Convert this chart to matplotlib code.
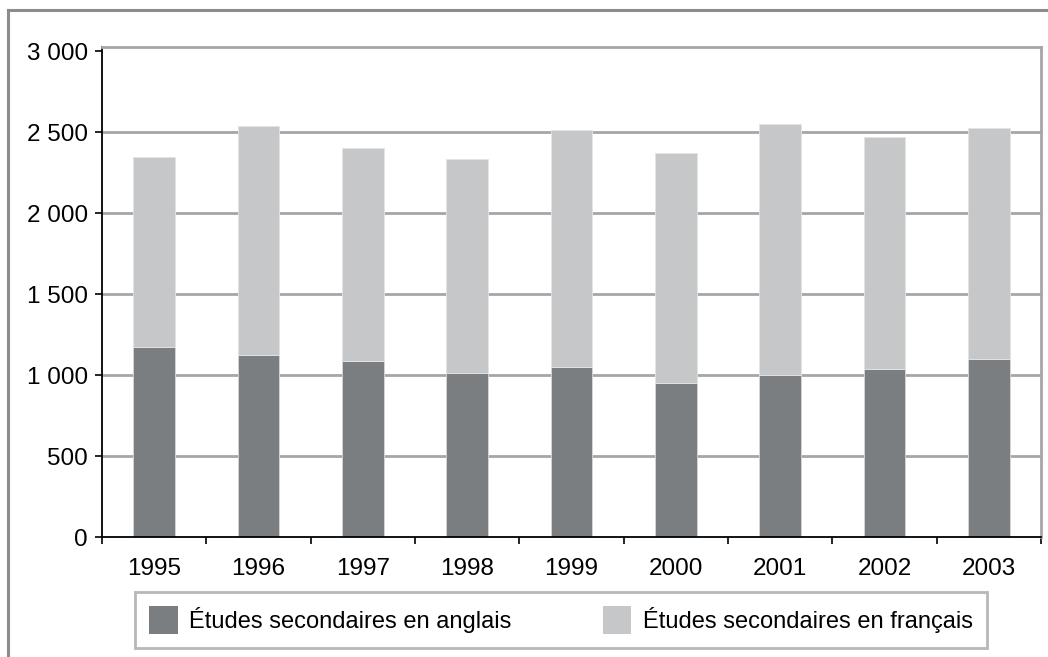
import matplotlib
matplotlib.use("Agg")
import matplotlib.pyplot as plt
from matplotlib.lines import Line2D
from matplotlib.patches import Patch

plt.rcParams['font.family'] = ['Liberation Sans', 'DejaVu Sans']

years = ['1995', '1996', '1997', '1998', '1999', '2000', '2001', '2002', '2003']
anglais = [1176, 1127, 1090, 1012, 1049, 950, 999, 1036, 1100]
francais = [1173, 1411, 1310, 1324, 1465, 1423, 1552, 1438, 1426]
yticks = [0, 500, 1000, 1500, 2000, 2500, 3000]
ylabels = ['0', '500', '1 000', '1 500', '2 000', '2 500', '3 000']

dark = '#7b7e80'
light = '#c6c7c9'
grid = '#a6a6a8'

W, H = 1048, 657
fig = plt.figure(figsize=(W / 100, H / 100), dpi=100)
ax = fig.add_axes([102 / W, (H - 537) / H, (1041 - 102) / W, (537 - 47) / H])

x = list(range(len(years)))
ax.bar(x, anglais, width=0.4, color=dark, edgecolor='#d8d8d8', linewidth=0.6, zorder=3)
ax.bar(x, francais, bottom=anglais, width=0.4, color=light, edgecolor='#e4e4e4', linewidth=0.6, zorder=3)

ax.set_xlim(-0.5, len(years) - 0.5)
ax.set_ylim(0, 3027)
ax.set_yticks(yticks)
ax.set_yticklabels(ylabels)
for v in yticks[1:-1]:
    ax.axhline(v, color=grid, linewidth=2, zorder=1)

ax.set_xticks(x)
ax.set_xticklabels(years)
ax.set_xticks([i - 0.5 for i in range(len(years) + 1)], minor=True)
ax.tick_params(axis='x', which='major', length=0, pad=15, labelsize=17.5)
ax.tick_params(axis='x', which='minor', length=5, width=1.2, color='black')
ax.tick_params(axis='y', length=5, width=1.2, pad=5, labelsize=17.5)

for s in ['top', 'right']:
    ax.spines[s].set_color(grid)
    ax.spines[s].set_linewidth(2)
for s in ['left', 'bottom']:
    ax.spines[s].set_color('black')
    ax.spines[s].set_linewidth(1.3)
ax.spines['bottom'].set_zorder(4)

handles = [Patch(facecolor=dark, label='Études secondaires en anglais'),
           Patch(facecolor=light, label='Études secondaires en français')]
leg = fig.legend(handles=handles, loc='lower left', ncol=2, mode='expand',
                 bbox_to_anchor=(135 / W, (H - 648) / H, (987 - 135) / W, 55 / H),
                 fontsize=17, frameon=True, fancybox=False, borderaxespad=0,
                 handlelength=1.2, handleheight=1.45, handletextpad=0.5,
                 borderpad=0.6)
leg.get_frame().set_edgecolor(grid)
leg.get_frame().set_linewidth(2)

# outer frame
fig.add_artist(Line2D([8 / W, 8 / W], [0, (H - 10) / H], color='#8c8c8c', linewidth=2.2))
fig.add_artist(Line2D([8 / W, 1], [(H - 10) / H, (H - 10) / H], color='#8c8c8c', linewidth=2.2))

fig.savefig('out.png', dpi=100)
